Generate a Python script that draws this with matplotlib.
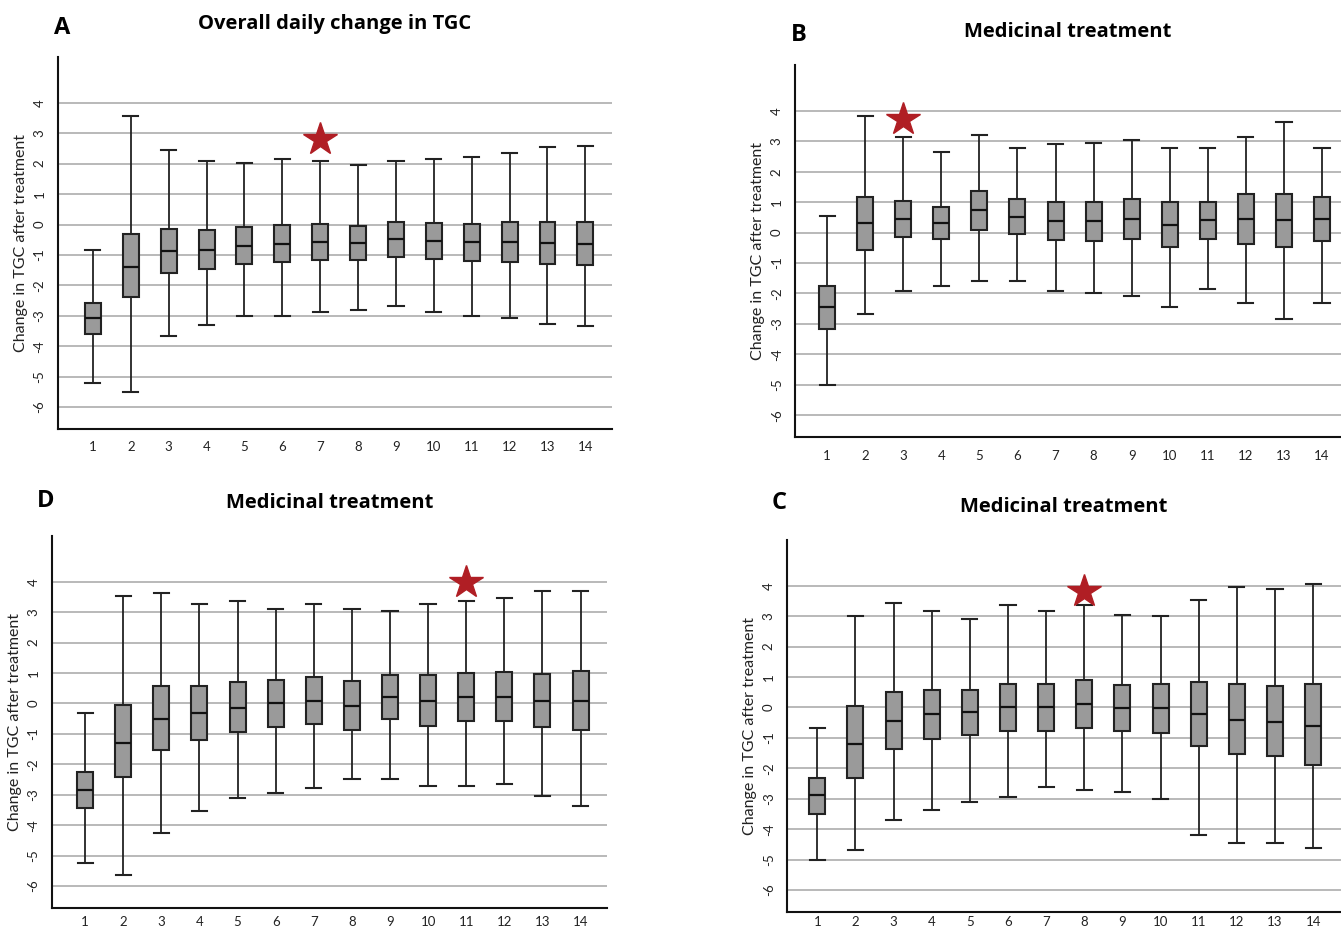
import numpy as np
import matplotlib.pyplot as plt

plt.rcParams['font.family'] = ['Lato', 'DejaVu Sans']

# dias (eixo x) e marcas do eixo y
dias = list(range(1, 15))
ticks_y = [-6, -5, -4, -3, -2, -1, 0, 1, 2, 3, 4]

# ---------------- painel A: variacao diaria geral ----------------
a_low = [-5.2, -5.51, -3.68, -3.30, -3.0, -3.0, -2.88, -2.8, -2.69, -2.87, -3.0, -3.06, -3.28, -3.35]
a_q1 = [-3.61, -2.39, -1.59, -1.45, -1.29, -1.23, -1.17, -1.16, -1.06, -1.15, -1.21, -1.22, -1.30, -1.33]
a_med = [-3.07, -1.39, -0.87, -0.84, -0.69, -0.63, -0.59, -0.60, -0.49, -0.55, -0.59, -0.58, -0.62, -0.63]
a_q3 = [-2.57, -0.31, -0.15, -0.17, -0.09, -0.01, 0.01, -0.05, 0.09, 0.06, 0.03, 0.07, 0.08, 0.08]
a_high = [-0.85, 3.56, 2.45, 2.09, 2.01, 2.15, 2.10, 1.95, 2.09, 2.16, 2.22, 2.35, 2.54, 2.59]
a_star = (7, 2.8)

# ---------------- painel B ----------------
b_low = [-5.0, -2.69, -1.92, -1.76, -1.59, -1.59, -1.92, -2.0, -2.08, -2.46, -1.84, -2.31, -2.85, -2.31]
b_q1 = [-3.18, -0.56, -0.15, -0.21, 0.07, -0.06, -0.23, -0.27, -0.21, -0.48, -0.21, -0.38, -0.48, -0.27]
b_med = [-2.46, 0.31, 0.45, 0.33, 0.73, 0.52, 0.39, 0.38, 0.45, 0.26, 0.40, 0.45, 0.40, 0.45]
b_q3 = [-1.76, 1.18, 1.05, 0.84, 1.38, 1.09, 1.0, 1.0, 1.10, 1.0, 1.0, 1.28, 1.28, 1.18]
b_high = [0.53, 3.82, 3.14, 2.65, 3.22, 2.77, 2.90, 2.95, 3.04, 2.77, 2.77, 3.14, 3.64, 2.77]
b_star = (3, 3.73)

# ---------------- painel D ----------------
d_low = [-5.25, -5.64, -4.27, -3.53, -3.10, -2.95, -2.79, -2.49, -2.49, -2.72, -2.72, -2.64, -3.03, -3.37]
d_q1 = [-3.45, -2.41, -1.54, -1.20, -0.94, -0.78, -0.69, -0.87, -0.51, -0.73, -0.59, -0.59, -0.78, -0.87]
d_med = [-2.83, -1.29, -0.50, -0.33, -0.14, 0.0, 0.09, -0.08, 0.21, 0.09, 0.21, 0.21, 0.09, 0.09]
d_q3 = [-2.26, -0.05, 0.59, 0.59, 0.69, 0.78, 0.87, 0.73, 0.92, 0.92, 1.0, 1.02, 0.96, 1.06]
d_high = [-0.31, 3.53, 3.62, 3.27, 3.36, 3.09, 3.27, 3.09, 3.03, 3.27, 3.36, 3.45, 3.71, 3.71]
d_star = (11, 4.0)

# ---------------- painel C ----------------
c_low = [-5.0, -4.69, -3.70, -3.37, -3.11, -2.95, -2.63, -2.71, -2.79, -3.02, -4.19, -4.47, -4.47, -4.63]
c_q1 = [-3.49, -2.33, -1.37, -1.03, -0.91, -0.77, -0.77, -0.67, -0.77, -0.85, -1.28, -1.52, -1.58, -1.88]
c_med = [-2.87, -1.19, -0.43, -0.22, -0.14, 0.01, 0.01, 0.13, -0.01, -0.03, -0.23, -0.40, -0.47, -0.62]
c_q3 = [-2.33, 0.06, 0.51, 0.59, 0.59, 0.78, 0.78, 0.90, 0.73, 0.78, 0.83, 0.78, 0.69, 0.78]
c_high = [-0.67, 3.0, 3.44, 3.18, 2.92, 3.36, 3.18, 3.36, 3.05, 3.0, 3.53, 3.97, 3.88, 4.05]
c_star = (8, 3.82)


def painel(fig, rect, xlim, low, q1, med, q3, high, star, titulo, letra, pos_letra, pad_x=9):
	ax = fig.add_axes(rect)

	#montando as estatisticas para o bxp
	stats = []
	for i in range(len(dias)):
		stats.append({'whislo': low[i], 'q1': q1[i], 'med': med[i],
					  'q3': q3[i], 'whishi': high[i], 'fliers': []})

	ax.bxp(stats, positions=dias, widths=0.42, capwidths=0.4, patch_artist=True,
		   showfliers=False,
		   boxprops=dict(facecolor='#9a9a9a', edgecolor='#222222', linewidth=1.5),
		   medianprops=dict(color='#111111', linewidth=1.6),
		   whiskerprops=dict(color='#222222', linewidth=1.3),
		   capprops=dict(color='#222222', linewidth=1.5))

	#estrela vermelha
	ax.plot(star[0], star[1], marker='*', markersize=25, color='#b01e24',
			markeredgecolor='#b01e24', zorder=5)

	ax.set_xlim(xlim)
	ax.set_ylim(-6.72, 5.5)
	ax.set_yticks(ticks_y)
	ax.set_yticklabels([str(t) for t in ticks_y], rotation=90, va='center')
	ax.set_xticks(dias)
	ax.set_xticklabels([str(d) for d in dias])
	ax.tick_params(length=0, labelsize=9.5, colors='#222222')
	ax.tick_params(axis='y', pad=9)
	ax.tick_params(axis='x', pad=pad_x)

	ax.grid(axis='y', color='#a5a5a5', linewidth=1.1)
	ax.set_axisbelow(True)

	for s in ['top', 'right']:
		ax.spines[s].set_visible(False)
	for s in ['left', 'bottom']:
		ax.spines[s].set_linewidth(1.5)
		ax.spines[s].set_color('#111111')

	ax.set_ylabel('Change in TGC after treatment', fontsize=11.5, color='#222222', labelpad=4)
	ax.set_title(titulo, fontsize=14.5, fontweight='bold', pad=20,
				 family=['Open Sans', 'DejaVu Sans'])
	fig.text(pos_letra[0], pos_letra[1], letra, fontsize=17, fontweight='bold',
			 ha='center', va='center', family=['Open Sans', 'DejaVu Sans'])
	return ax


fig = plt.figure(figsize=(13.41, 9.32), dpi=100)

painel(fig, [0.0433, 0.5397, 0.413, 0.399], (0.08, 14.7),
	   a_low, a_q1, a_med, a_q3, a_high, a_star,
	   'Overall daily change in TGC', 'A', (62/1341, 1-28/932))
painel(fig, [0.593, 0.531, 0.407, 0.399], (0.16, 14.5),
	   b_low, b_q1, b_med, b_q3, b_high, b_star,
	   'Medicinal treatment', 'B', (799/1341, 1-35/932))
painel(fig, [0.0388, 0.0258, 0.414, 0.399], (0.13, 14.7),
	   d_low, d_q1, d_med, d_q3, d_high, d_star,
	   'Medicinal treatment', 'D', (46/1341, 1-501/932), pad_x=6)
painel(fig, [0.587, 0.0215, 0.413, 0.399], (0.21, 14.73),
	   c_low, c_q1, c_med, c_q3, c_high, c_star,
	   'Medicinal treatment', 'C', (779/1341, 1-503/932), pad_x=3)

plt.savefig('out.png', dpi=100)
